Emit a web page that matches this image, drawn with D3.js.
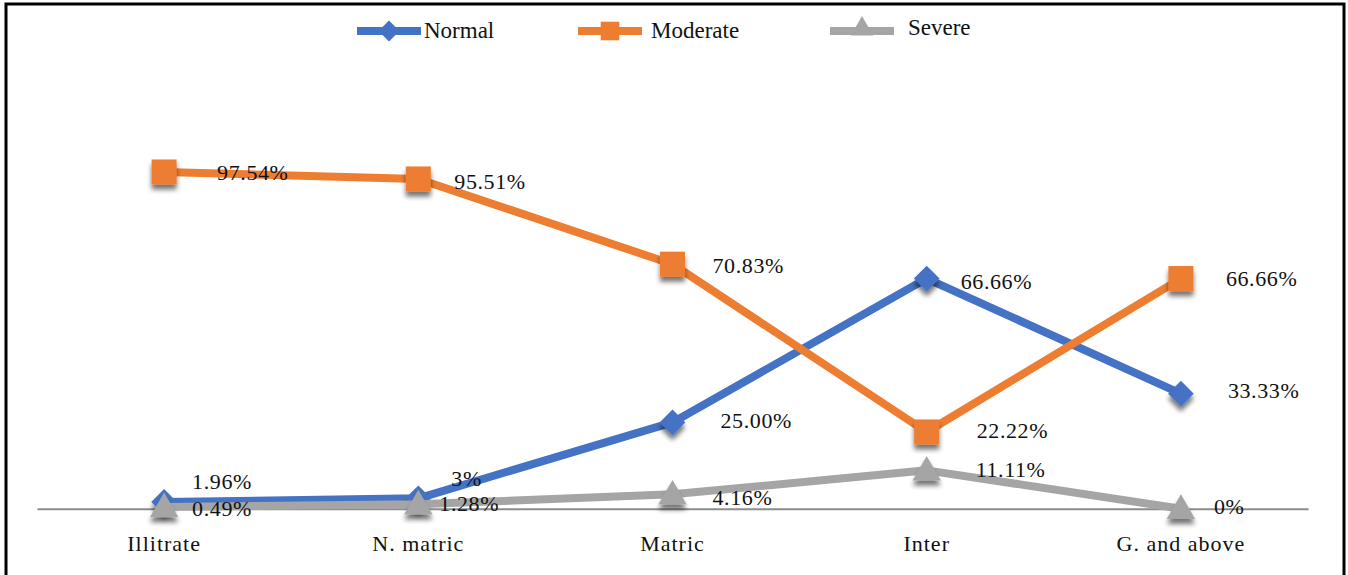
<!DOCTYPE html>
<html>
<head>
<meta charset="utf-8">
<script src="https://cdn.jsdelivr.net/npm/d3@7"></script>
<style>
  html, body { margin: 0; padding: 0; background: #fff; }
  svg { display: block; }
  text { font-family: "Liberation Serif", "Times New Roman", serif; fill: #111; }
</style>
</head>
<body>
<svg id="chart" width="1348" height="575"></svg>
<script>
// Education level categories
const categories = ["Illitrate", "N. matric", "Matric", "Inter", "G. and above"];

// Percentages per series
const normalValues   = [1.96, 3, 25.00, 66.66, 33.33];
const moderateValues = [97.54, 95.51, 70.83, 22.22, 66.66];
const severeValues   = [0.49, 1.28, 4.16, 11.11, 0];

// Printed value labels
const normalLabels   = ["1.96%", "3%", "25.00%", "66.66%", "33.33%"];
const moderateLabels = ["97.54%", "95.51%", "70.83%", "22.22%", "66.66%"];
const severeLabels   = ["0.49%", "1.28%", "4.16%", "11.11%", "0%"];

// Label placement relative to each point: [dx, dy]
const normalOffsets   = [[28, -21], [33, -20], [48, -2], [34, 3], [47, -3]];
const moderateOffsets = [[53, 0], [36, 2], [40, 1], [50, -2], [45, 0]];
const severeOffsets   = [[28, 1], [21, -1], [40, 3], [49, -1], [33, -2]];

const series = [
  { name: "Normal",   values: normalValues,   labels: normalLabels,   offsets: normalOffsets,   color: "#4472C4", marker: "diamond" },
  { name: "Moderate", values: moderateValues, labels: moderateLabels, offsets: moderateOffsets, color: "#ED7D31", marker: "square" },
  { name: "Severe",   values: severeValues,   labels: severeLabels,   offsets: severeOffsets,   color: "#A5A5A5", marker: "triangle" }
];

const svg = d3.select("#chart");

svg.append("rect").attr("x", 0).attr("y", 0).attr("width", 1348).attr("height", 575).attr("fill", "#fff");

// Drop shadow for markers
const defs = svg.append("defs");
const f = defs.append("filter").attr("id", "shadow")
  .attr("x", "-50%").attr("y", "-50%").attr("width", "200%").attr("height", "200%");
f.append("feGaussianBlur").attr("in", "SourceAlpha").attr("stdDeviation", 2.5).attr("result", "blur");
f.append("feOffset").attr("in", "blur").attr("dx", 0).attr("dy", 5).attr("result", "off");
f.append("feComponentTransfer").attr("in", "off").attr("result", "offA")
  .append("feFuncA").attr("type", "linear").attr("slope", 0.55);
const merge = f.append("feMerge");
merge.append("feMergeNode").attr("in", "offA");
merge.append("feMergeNode").attr("in", "SourceGraphic");

const x = d3.scaleBand().domain(categories).range([37, 1308]);
const y = d3.scaleLinear().domain([0, 100]).range([508.7, 163.5]);
const cx = c => x(c) + x.bandwidth() / 2;

// Category axis
const axis = svg.append("g")
  .attr("transform", `translate(0,${y(0)})`)
  .call(d3.axisBottom(x).tickSize(0).tickPadding(0));
axis.select(".domain").attr("stroke", "#8c8c8c").attr("stroke-width", 2);
axis.selectAll(".tick text")
  .attr("y", 35).attr("dy", "0.35em")
  .style("font-family", "'Liberation Serif', 'Times New Roman', serif")
  .style("font-size", "22px").style("letter-spacing", "1px").attr("fill", "#111");

function markerPath(type, size) {
  const symbol = type === "diamond" ? d3.symbolDiamond2 : type === "square" ? d3.symbolSquare2 : d3.symbolTriangle2;
  return d3.symbol().type(symbol).size(size)();
}
const markerSize = { diamond: 420, square: 800, triangle: 580 };

const line = d3.line().x((d, i) => cx(categories[i])).y(d => y(d));

series.forEach(s => {
  const g = svg.append("g");
  g.append("path").datum(s.values)
    .attr("d", line)
    .attr("fill", "none")
    .attr("stroke", s.color)
    .attr("stroke-width", 8)
    .attr("stroke-linejoin", "round");
  g.selectAll("path.mk").data(s.values).join("path")
    .attr("class", "mk")
    .attr("d", markerPath(s.marker, markerSize[s.marker]))
    .attr("transform", (d, i) => `translate(${cx(categories[i])},${y(d) + (s.marker === "triangle" ? 2 : 0)})`)
    .attr("fill", s.color)
    .attr("filter", "url(#shadow)");
});

// Value labels
series.forEach(s => {
  svg.append("g").selectAll("text").data(s.values).join("text")
    .attr("x", (d, i) => cx(categories[i]) + s.offsets[i][0])
    .attr("y", (d, i) => y(d) + s.offsets[i][1])
    .attr("dy", "0.35em")
    .style("font-size", "22px")
    .style("letter-spacing", "0.6px")
    .text((d, i) => s.labels[i]);
});

// Legend
const legendX = [357, 578, 830];
const legend = svg.append("g");
series.forEach((s, i) => {
  const lg = legend.append("g").attr("transform", `translate(${legendX[i]},31)`);
  lg.append("line").attr("x1", 0).attr("x2", 64).attr("y1", 0).attr("y2", 0)
    .attr("stroke", s.color).attr("stroke-width", 8);
  lg.append("path")
    .attr("d", markerPath(s.marker, { diamond: 280, square: 440, triangle: 360 }[s.marker]))
    .attr("transform", `translate(32,${s.marker === "triangle" ? -2 : 0})`)
    .attr("fill", s.color);
  lg.append("text")
    .attr("x", s.name === "Normal" ? 67 : s.name === "Moderate" ? 73 : 78)
    .attr("y", s.name === "Severe" ? -4 : -1)
    .attr("dy", "0.35em")
    .style("font-size", "23px")
    .text(s.name);
});

// Outer frame
svg.append("path")
  .attr("d", "M6,580 V4 H1344 V580")
  .attr("fill", "none").attr("stroke", "#000").attr("stroke-width", 3);
</script>
</body>
</html>
